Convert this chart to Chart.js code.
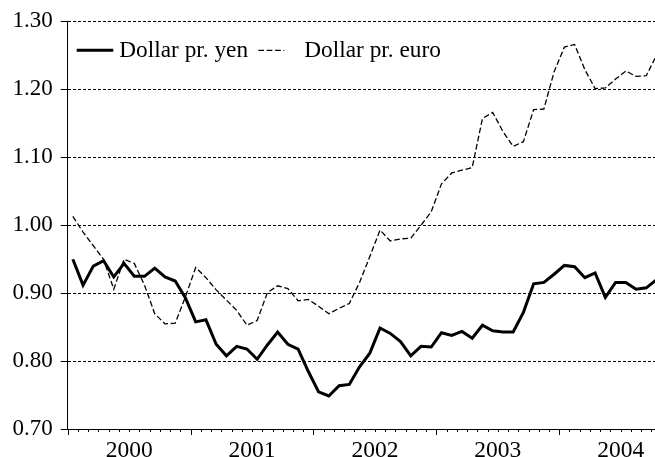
<!DOCTYPE html>
<html>
<head>
<meta charset="utf-8">
<script src="https://cdn.jsdelivr.net/npm/chart.js@4/dist/chart.umd.min.js"></script>
<style>
html,body{margin:0;padding:0;overflow:hidden;background:#fff;}
#wrap{position:relative;width:655px;height:463px;}
.probe{position:absolute;left:-9999px;top:0;font-family:"Liberation Serif";font-size:23px;}
</style>
</head>
<body>
<span class="probe">Dollar 0123456789</span>
<div id="wrap"><canvas id="c"></canvas></div>
<script>
// Monthly observations, Jan 2000 - Oct 2004
const months = [
 '2000-01','2000-02','2000-03','2000-04','2000-05','2000-06','2000-07','2000-08','2000-09','2000-10','2000-11','2000-12',
 '2001-01','2001-02','2001-03','2001-04','2001-05','2001-06','2001-07','2001-08','2001-09','2001-10','2001-11','2001-12',
 '2002-01','2002-02','2002-03','2002-04','2002-05','2002-06','2002-07','2002-08','2002-09','2002-10','2002-11','2002-12',
 '2003-01','2003-02','2003-03','2003-04','2003-05','2003-06','2003-07','2003-08','2003-09','2003-10','2003-11','2003-12',
 '2004-01','2004-02','2004-03','2004-04','2004-05','2004-06','2004-07','2004-08','2004-09','2004-10'
];
const yearLabels = ['2000','2001','2002','2003','2004'];
const yTickValues = [0.70, 0.80, 0.90, 1.00, 1.10, 1.20, 1.30];
const seriesNames = ['Dollar pr. yen', 'Dollar pr. euro'];

const yenValues = [
 0.950,0.912,0.940,0.948,0.924,0.944,0.925,0.925,0.937,0.924,0.918,0.893,
 0.858,0.861,0.825,0.808,0.822,0.818,0.803,0.824,0.843,0.825,0.818,0.785,
 0.755,0.749,0.764,0.766,0.792,0.812,0.849,0.841,0.829,0.808,0.822,0.821,
 0.842,0.838,0.844,0.834,0.853,0.845,0.843,0.843,0.872,0.914,0.916,0.928,
 0.941,0.939,0.923,0.930,0.894,0.916,0.916,0.906,0.908,0.920
];
const euroValues = [
 1.013,0.990,0.970,0.950,0.906,0.950,0.944,0.912,0.870,0.855,0.856,0.895,
 0.938,0.923,0.905,0.890,0.875,0.853,0.860,0.901,0.911,0.907,0.889,0.891,
 0.881,0.870,0.878,0.885,0.916,0.954,0.993,0.977,0.980,0.981,1.000,1.020,
 1.061,1.077,1.081,1.085,1.157,1.166,1.138,1.116,1.123,1.170,1.171,1.226,
 1.262,1.266,1.229,1.201,1.202,1.215,1.227,1.219,1.220,1.250
];

const FONT = '"Liberation Serif", "Times New Roman", Tinos, serif';
Chart.defaults.font.family = FONT;

const monthTicks = {
  id: 'monthTicks',
  afterDraw(chart) {
    const xs = chart.scales.x;
    const yb = chart.chartArea.bottom;
    const ctx = chart.ctx;
    ctx.save();
    ctx.strokeStyle = '#000';
    ctx.lineWidth = 1;
    for (let m = 0; m <= months.length; m++) {
      const v = m - 0.5;
      if (v < xs.min || v > xs.max) continue;
      const px = Math.round(xs.getPixelForValue(v)) + 0.5;
      const len = (m % 12 === 0) ? 6 : 3;
      ctx.beginPath();
      ctx.moveTo(px, Math.round(yb));
      ctx.lineTo(px, Math.round(yb) + len);
      ctx.stroke();
    }
    ctx.restore();
  }
};

const insideLegend = {
  id: 'insideLegend',
  afterDraw(chart) {
    const ctx = chart.ctx;
    const a = chart.chartArea;
    const ds = chart.data.datasets;
    const cy = a.top + 29;
    const base = a.top + 36;
    const L = a.left;
    ctx.save();
    ctx.font = '23.3px ' + FONT;
    ctx.fillStyle = '#000';
    ctx.textBaseline = 'alphabetic';
    // item 1: solid sample + label
    ctx.strokeStyle = ds[0].borderColor;
    ctx.lineWidth = ds[0].borderWidth;
    ctx.setLineDash([]);
    ctx.beginPath(); ctx.moveTo(L + 9, cy); ctx.lineTo(L + 45.6, cy); ctx.stroke();
    ctx.fillText(ds[0].label, L + 51.6, base);
    // item 2: dashed sample + label
    ctx.strokeStyle = ds[1].borderColor;
    ctx.lineWidth = ds[1].borderWidth;
    ctx.setLineDash(ds[1].borderDash);
    ctx.beginPath(); ctx.moveTo(L + 190.6, cy); ctx.lineTo(L + 216.6, cy); ctx.stroke();
    ctx.setLineDash([]);
    ctx.fillText(ds[1].label, L + 236.6, base);
    ctx.restore();
  }
};

function build() {
  new Chart(document.getElementById('c'), {
    type: 'line',
    data: {
      datasets: [
        {
          label: seriesNames[0],
          data: yenValues.map((v, i) => ({x: i, y: v})),
          borderColor: '#000',
          borderWidth: 3,
          pointRadius: 0,
          pointHoverRadius: 0,
          tension: 0,
          fill: false
        },
        {
          label: seriesNames[1],
          data: euroValues.map((v, i) => ({x: i, y: v})),
          borderColor: '#000',
          borderWidth: 1.3,
          borderDash: [5.7, 2.7],
          pointRadius: 0,
          pointHoverRadius: 0,
          tension: 0,
          fill: false
        }
      ]
    },
    options: {
      responsive: true,
      maintainAspectRatio: false,
      animation: false,
      events: [],
      layout: { autoPadding: false, padding: { left: 12.5, top: 21.3, right: 0, bottom: 0 } },
      plugins: { legend: { display: false }, tooltip: { enabled: false } },
      scales: {
        x: {
          type: 'linear',
          min: -0.5,
          max: 56.85,
          afterBuildTicks(scale) {
            scale.ticks = yearLabels.map((y, k) => ({ value: k * 12 + 5.5 }));
          },
          afterFit(scale) { scale.height = 33.7; scale.paddingLeft = 0; scale.paddingRight = 0; },
          ticks: {
            autoSkip: false,
            maxRotation: 0,
            padding: 7.5,
            color: '#000',
            font: { family: FONT, size: 23.5 },
            callback: (v) => yearLabels[Math.round((v - 5.5) / 12)]
          },
          grid: { display: false, drawTicks: false },
          border: { display: true, color: '#000', width: 1 }
        },
        y: {
          min: 0.7,
          max: 1.3,
          afterBuildTicks(scale) {
            scale.ticks = yTickValues.map(v => ({ value: v }));
          },
          afterFit(scale) { scale.width = 55.2; scale.paddingTop = 0; scale.paddingBottom = 0; },
          ticks: {
            padding: 8,
            color: '#000',
            font: { family: FONT, size: 23 },
            callback: (v) => Number(v).toFixed(2)
          },
          grid: {
            color: '#000',
            lineWidth: 1,
            tickLength: 7,
            tickColor: '#000',
            tickBorderDash: []
          },
          border: { display: true, color: '#000', width: 1, dash: [3, 2] }
        }
      }
    },
    plugins: [monthTicks, insideLegend]
  });
}

if (document.fonts && document.fonts.load) {
  document.fonts.load('23px "Liberation Serif"').then(build, build);
} else {
  build();
}
</script>
</body>
</html>
